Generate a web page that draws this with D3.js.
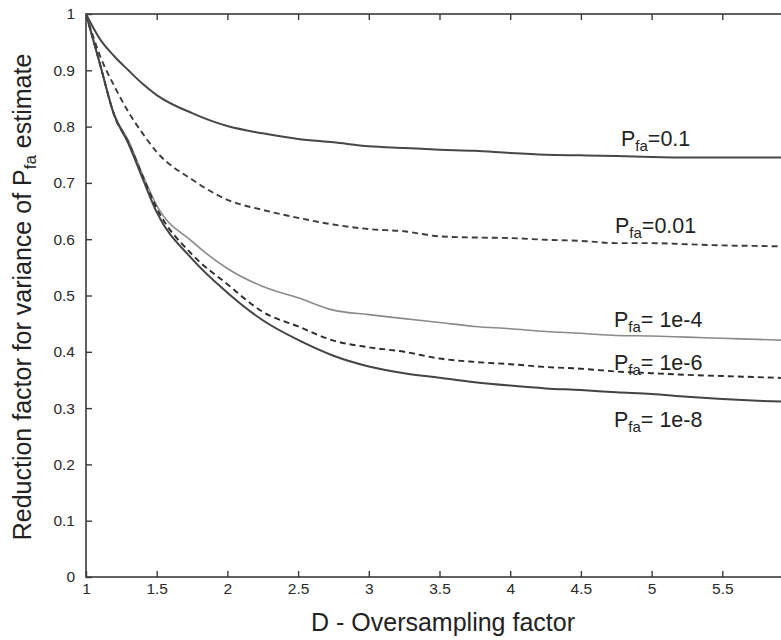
<!DOCTYPE html>
<html>
<head>
<meta charset="utf-8">
<script src="https://cdn.jsdelivr.net/npm/d3@7"></script>
<style>
  html, body { margin: 0; padding: 0; background: #fff; }
  svg { display: block; font-family: "Liberation Sans", Arial, Helvetica, sans-serif; }
</style>
</head>
<body>
<svg id="chart" width="781" height="640"></svg>
<script>
// ---- data ----
const D = [1, 1.1, 1.2, 1.3, 1.4, 1.5, 1.75, 2, 2.25, 2.5, 2.75, 3, 3.25, 3.5, 3.75, 4, 4.25, 4.5, 4.75, 5, 5.25, 5.5, 5.75, 6];
const pfa_0_1  = [1, 0.955, 0.925, 0.900, 0.876, 0.856, 0.824, 0.801, 0.788, 0.778, 0.772, 0.765, 0.762, 0.759, 0.757, 0.753, 0.750, 0.749, 0.748, 0.746, 0.745, 0.745, 0.745, 0.745];
const pfa_0_01 = [1, 0.925, 0.872, 0.826, 0.788, 0.755, 0.706, 0.670, 0.652, 0.638, 0.626, 0.618, 0.614, 0.605, 0.603, 0.602, 0.599, 0.597, 0.593, 0.593, 0.591, 0.589, 0.588, 0.587];
const pfa_1e4  = [1, 0.910, 0.822, 0.775, 0.715, 0.660, 0.596, 0.548, 0.516, 0.496, 0.474, 0.466, 0.459, 0.452, 0.445, 0.441, 0.436, 0.433, 0.429, 0.428, 0.426, 0.424, 0.422, 0.420];
const pfa_1e6  = [1, 0.910, 0.820, 0.772, 0.712, 0.655, 0.573, 0.520, 0.471, 0.445, 0.420, 0.408, 0.400, 0.388, 0.382, 0.378, 0.373, 0.370, 0.365, 0.362, 0.359, 0.357, 0.355, 0.353];
const pfa_1e8  = [1, 0.910, 0.820, 0.770, 0.708, 0.648, 0.565, 0.505, 0.456, 0.421, 0.393, 0.374, 0.362, 0.354, 0.346, 0.340, 0.335, 0.332, 0.328, 0.325, 0.320, 0.316, 0.313, 0.311];
const seriesNames = ["0.1", "0.01", " 1e-4", " 1e-6", " 1e-8"];
const xTicks = [1, 1.5, 2, 2.5, 3, 3.5, 4, 4.5, 5, 5.5];
const xTickLabels = ["1", "1.5", "2", "2.5", "3", "3.5", "4", "4.5", "5", "5.5"];
const yTicks = [0, 0.1, 0.2, 0.3, 0.4, 0.5, 0.6, 0.7, 0.8, 0.9, 1];
const yTickLabels = ["0", "0.1", "0.2", "0.3", "0.4", "0.5", "0.6", "0.7", "0.8", "0.9", "1"];

// ---- layout ----
const svg = d3.select("#chart");
const pLeft = 86, pRight = 793, pTop = 14, pBottom = 577;
const x = d3.scaleLinear().domain([1, 6]).range([pLeft, pRight]);
const y = d3.scaleLinear().domain([0, 1]).range([pBottom, pTop]);

const axisColor = "#3a3a3a";
const tickLen = 6;

// frame
svg.append("rect").attr("x", pLeft).attr("y", pTop)
  .attr("width", pRight - pLeft).attr("height", pBottom - pTop)
  .attr("fill", "none").attr("stroke", axisColor).attr("stroke-width", 1.6);

// axes (ticks inward)
const gx = svg.append("g").attr("transform", `translate(0,${pBottom})`)
  .call(d3.axisBottom(x).tickValues(xTicks).tickSize(-tickLen).tickPadding(6)
    .tickFormat((d, i) => xTickLabels[i]));
const gxTop = svg.append("g").attr("transform", `translate(0,${pTop})`)
  .call(d3.axisTop(x).tickValues(xTicks).tickSize(-tickLen).tickFormat(""));
const gy = svg.append("g").attr("transform", `translate(${pLeft},0)`)
  .call(d3.axisLeft(y).tickValues(yTicks).tickSize(-tickLen).tickPadding(11)
    .tickFormat((d, i) => yTickLabels[i]));
const gyR = svg.append("g").attr("transform", `translate(${pRight},0)`)
  .call(d3.axisRight(y).tickValues(yTicks).tickSize(-tickLen).tickFormat(""));

[gx, gxTop, gy, gyR].forEach(g => {
  g.select(".domain").remove();
  g.selectAll(".tick line").attr("stroke", axisColor).attr("stroke-width", 1.4);
  g.selectAll(".tick text").attr("fill", "#2a2a2a").attr("font-size", 15.5)
    .attr("font-family", "'Liberation Sans', Arial, sans-serif");
});
gx.selectAll(".tick text").attr("dy", "0.71em");

// ---- lines ----
const series = [
  { name: seriesNames[0], values: pfa_0_1,  color: "#474747", width: 2.0, dash: null },
  { name: seriesNames[1], values: pfa_0_01, color: "#3c3c3c", width: 1.9, dash: "6,4" },
  { name: seriesNames[2], values: pfa_1e4,  color: "#8a8a8a", width: 1.6, dash: null },
  { name: seriesNames[3], values: pfa_1e6,  color: "#2c2c2c", width: 1.9, dash: "6,4" },
  { name: seriesNames[4], values: pfa_1e8,  color: "#444444", width: 2.0, dash: null }
];

const line = d3.line().x((d, i) => x(D[i])).y(d => y(d)).curve(d3.curveMonotoneX);
svg.append("defs").append("clipPath").attr("id", "plotclip")
  .append("rect").attr("x", pLeft).attr("y", pTop).attr("width", pRight - pLeft).attr("height", pBottom - pTop);

svg.append("g").attr("clip-path", "url(#plotclip)")
  .selectAll("path").data(series).join("path")
  .attr("d", s => line(s.values))
  .attr("fill", "none")
  .attr("stroke", s => s.color)
  .attr("stroke-width", s => s.width)
  .attr("stroke-dasharray", s => s.dash)
  .attr("stroke-linejoin", "round");

// ---- curve labels ----
const labelPos = [
  { x: 621, y: 146 },
  { x: 615, y: 233 },
  { x: 614, y: 327 },
  { x: 614, y: 370 },
  { x: 614, y: 427 }
];
series.forEach((s, i) => {
  const t = svg.append("text").attr("x", labelPos[i].x).attr("y", labelPos[i].y)
    .attr("font-size", 21.5).attr("fill", "#222");
  t.append("tspan").text("P");
  t.append("tspan").attr("font-size", 15).attr("dy", 5).text("fa");
  t.append("tspan").attr("dy", -5).text("=" + s.name);
});

// ---- axis titles ----
svg.append("text").attr("x", 443).attr("y", 631)
  .attr("text-anchor", "middle").attr("font-size", 25).attr("fill", "#222")
  .text("D - Oversampling factor");

const yt = svg.append("text")
  .attr("transform", "translate(31,297) rotate(-90)")
  .attr("text-anchor", "middle").attr("font-size", 25).attr("fill", "#222");
yt.append("tspan").text("Reduction factor for variance of P");
yt.append("tspan").attr("font-size", 17).attr("dy", 5).text("fa");
yt.append("tspan").attr("dy", -5).text(" estimate");
</script>
</body>
</html>
